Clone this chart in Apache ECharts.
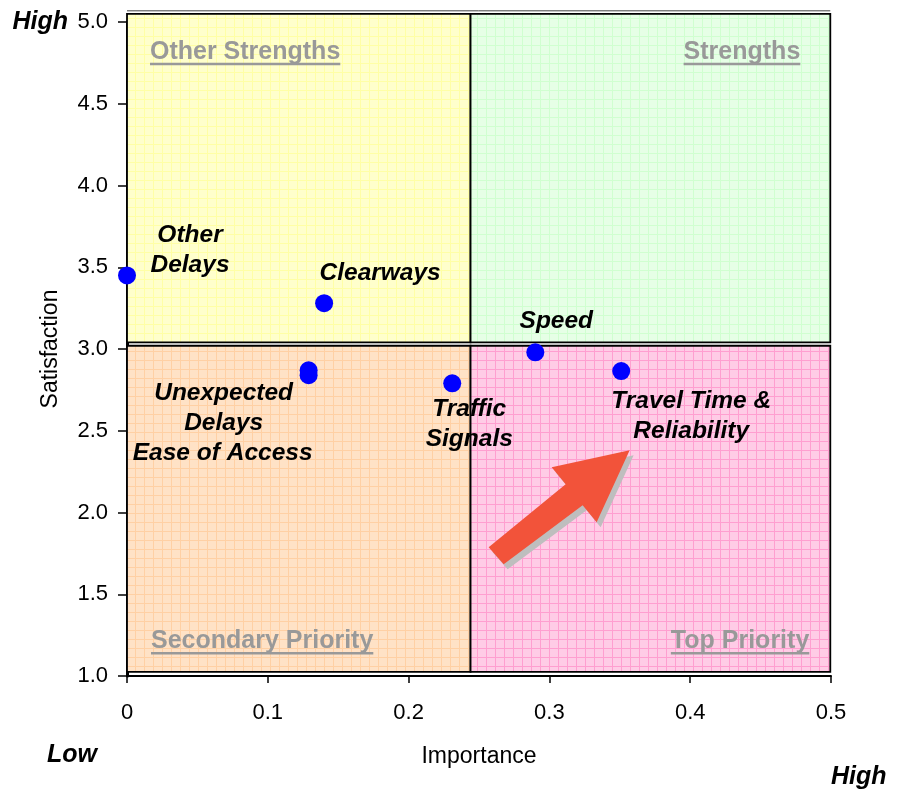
<!DOCTYPE html>
<html><head><meta charset="utf-8">
<script src="https://cdn.jsdelivr.net/npm/echarts@6/dist/echarts.min.js"></script>
<style>html,body{margin:0;padding:0;background:#fff}#c{width:901px;height:791px}</style>
</head><body><div id="c"></div>
<script>
// ---- data ----
const pointNames = ['Other\nDelays', 'Clearways', 'Unexpected\nDelays', 'Ease of Access', 'Traffic\nSignals', 'Speed', 'Travel Time &\nReliability'];
const importance = [0.0, 0.14, 0.129, 0.129, 0.231, 0.29, 0.351];
const satisfaction = [3.45, 3.28, 2.87, 2.84, 2.79, 2.98, 2.865];
const xTicks = [0, 0.1, 0.2, 0.3, 0.4, 0.5];
const yTicks = [1.0, 1.5, 2.0, 2.5, 3.0, 3.5, 4.0, 4.5, 5.0];
const quadrantNames = ['Other Strengths', 'Strengths', 'Secondary Priority', 'Top Priority'];
const importanceSplit = 0.244;
const satisfactionSplitTop = 3.04;
const satisfactionSplitBottom = 3.02;

// ---- styles / layout ----
const labelOffsets = [[63, -25], [56, -30], [-85, 38], [-86, 78], [17, 41], [21, -31], [70, 45]];
const FONT = "'Liberation Sans', Arial, sans-serif";

function pat(bg, line) {
  const c = document.createElement('canvas');
  c.width = 9; c.height = 9;
  const g = c.getContext('2d');
  g.fillStyle = bg; g.fillRect(0, 0, 9, 9);
  g.fillStyle = line; g.fillRect(0, 0, 9, 1); g.fillRect(0, 0, 1, 9);
  return { image: c, repeat: 'repeat' };
}
const quadFill = [pat('#FFFFCC', '#FFFFA6'), pat('#E6FFE6', '#D0FFD0'), pat('#FFE2C6', '#FFD0A4'), pat('#FFCCE6', '#FF9FD0')];

const chart = echarts.init(document.getElementById('c'), null, { renderer: 'canvas' });

const xMin = xTicks[0], xMax = xTicks[xTicks.length - 1];
const yMin = yTicks[0], yMax = yTicks[yTicks.length - 1];
const qTop = yMax + 0.05, qBottom = yMin + 0.025, qRight = xMax - 0.0005;

// quadrant boxes: [x0, y0, x1, y1, fillIndex]
const quadData = [
  [xMin, satisfactionSplitTop, importanceSplit, qTop, 0],
  [importanceSplit, satisfactionSplitTop, qRight, qTop, 1],
  [xMin, qBottom, importanceSplit, satisfactionSplitBottom, 2],
  [importanceSplit, qBottom, qRight, satisfactionSplitBottom, 3]
];

const data = importance.map((x, i) => ({
  value: [x, satisfaction[i]],
  name: pointNames[i],
  label: {
    show: true, position: 'inside', offset: labelOffsets[i],
    formatter: pointNames[i], color: '#000', fontFamily: FONT,
    fontSize: 24.5, fontWeight: 'bold', fontStyle: 'italic', lineHeight: 30,
    align: 'center', textBorderWidth: 0
  }
}));

chart.setOption({
  animation: false,
  grid: { left: 127, right: 70, top: 22, bottom: 115, containLabel: false },
  xAxis: {
    type: 'value', min: xMin, max: xMax, interval: 0.1,
    name: 'Importance', nameLocation: 'middle', nameGap: 69,
    nameTextStyle: { fontFamily: FONT, fontSize: 23, color: '#000' },
    axisLine: { show: true, onZero: false, lineStyle: { color: '#000', width: 2 } },
    axisTick: { show: true, length: 7, lineStyle: { color: '#000', width: 1.5 } },
    axisLabel: { fontFamily: FONT, fontSize: 22, color: '#000', margin: 26 },
    splitLine: { show: false }
  },
  yAxis: {
    type: 'value', min: yMin, max: yMax, interval: 0.5,
    name: 'Satisfaction', nameLocation: 'middle', nameGap: 65, nameRotate: 90,
    nameTextStyle: { fontFamily: FONT, fontSize: 23, color: '#000' },
    axisLine: { show: true, onZero: false, lineStyle: { color: '#000', width: 3 } },
    axisTick: { show: true, length: 9, lineStyle: { color: '#000', width: 1.5 } },
    axisLabel: { fontFamily: FONT, fontSize: 22, color: '#000', margin: 19, formatter: v => v.toFixed(1) },
    splitLine: { show: false }
  },
  series: [{
    type: 'custom', clip: false, silent: true, z: 1,
    data: quadData,
    encode: { x: [0, 2], y: [1, 3] },
    renderItem: function (params, api) {
      const p0 = api.coord([api.value(0), api.value(3)]);
      const p1 = api.coord([api.value(2), api.value(1)]);
      return {
        type: 'rect',
        shape: { x: p0[0], y: p0[1], width: p1[0] - p0[0], height: p1[1] - p0[1] },
        style: { fill: quadFill[api.value(4)], stroke: '#000', lineWidth: 1.8 }
      };
    }
  }, {
    type: 'scatter', clip: false, symbol: 'circle', symbolSize: 18,
    itemStyle: { color: '#0000FF', opacity: 1 },
    z: 5,
    data: data
  }]
});

// ---- decorations positioned through the chart's scales ----
const toPx = (p) => chart.convertToPixel({ gridIndex: 0 }, p);
const mctx = document.createElement('canvas').getContext('2d');
const titleFont = 'bold 25px ' + FONT;
mctx.font = titleFont;

const tl = toPx([xMin, qTop]), tr = toPx([qRight, qTop]), bl = toPx([xMin, qBottom]), br = toPx([qRight, qBottom]);
const titleSpecs = [
  { text: quadrantNames[0], x: tl[0] + 23, y: tl[1] + 38, align: 'left' },
  { text: quadrantNames[1], x: tr[0] - 30, y: tr[1] + 38, align: 'right' },
  { text: quadrantNames[2], x: bl[0] + 24, y: bl[1] - 31, align: 'left' },
  { text: quadrantNames[3], x: br[0] - 21, y: br[1] - 31, align: 'right' }
];
const graphics = [];
titleSpecs.forEach(t => {
  const w = mctx.measureText(t.text).width;
  graphics.push({ type: 'text', z: 10, style: { text: t.text, x: t.x, y: t.y, align: t.align, verticalAlign: 'middle', font: titleFont, fill: '#999999' } });
  const x0 = t.align === 'left' ? t.x : t.x - w;
  graphics.push({ type: 'rect', z: 10, shape: { x: x0, y: t.y + 11, width: w, height: 2.5 }, style: { fill: '#999999' } });
});

// top double line above the plot area
graphics.push({ type: 'line', z: 10, shape: { x1: tl[0], y1: tl[1] - 3, x2: tr[0], y2: tr[1] - 3 }, style: { stroke: '#444', lineWidth: 1 } });

// arrow
const tip = toPx([0.357, 2.38]);
const arrowShape = [[0, 0], [-78, 17], [-64, 34], [-141, 97], [-126, 114], [-47, 55], [-33, 72]];
graphics.push({ type: 'polygon', z: 9, shape: { points: arrowShape.map(p => [tip[0] + p[0] + 4, tip[1] + p[1] + 5]) }, style: { fill: '#BEBEBE' } });
graphics.push({ type: 'polygon', z: 10, shape: { points: arrowShape.map(p => [tip[0] + p[0], tip[1] + p[1]]) }, style: { fill: '#F2533A' } });

// High / Low
const hlFont = 'italic bold 25px ' + FONT;
graphics.push({ type: 'text', z: 10, style: { text: 'High', x: 68, y: 22, align: 'right', verticalAlign: 'middle', font: hlFont, fill: '#000' } });
graphics.push({ type: 'text', z: 10, style: { text: 'Low', x: 47, y: 755, align: 'left', verticalAlign: 'middle', font: hlFont, fill: '#000' } });
graphics.push({ type: 'text', z: 10, style: { text: 'High', x: 831, y: 777, align: 'left', verticalAlign: 'middle', font: hlFont, fill: '#000' } });

chart.setOption({ graphic: graphics });
</script>
</body></html>
